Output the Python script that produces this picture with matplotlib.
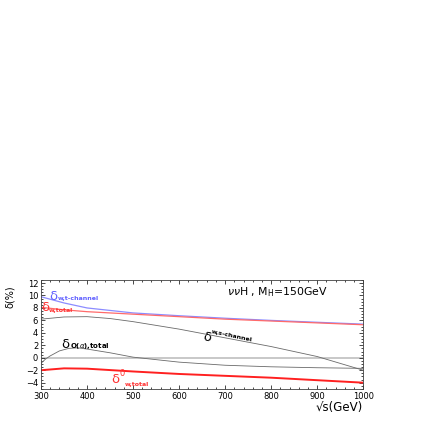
import numpy as np
import matplotlib; matplotlib.use("Agg")
import matplotlib.pyplot as plt
from matplotlib.ticker import MultipleLocator

# sqrt(s) in GeV and corrections in %
s_t = [300, 350, 400, 500, 600, 700, 800, 900, 1000]
d_t = [9.8, 8.8, 8.0, 7.2, 6.75, 6.35, 6.0, 5.7, 5.4]        # delta_w,t-channel (blue)
s_tot = [300, 350, 400, 500, 600, 700, 800, 900, 1000]
d_tot = [8.1, 7.7, 7.4, 7.0, 6.6, 6.2, 5.9, 5.6, 5.3]        # delta_w,total (red)
s_s = [300, 350, 400, 450, 500, 600, 700, 800, 900, 1000]
d_s = [6.2, 6.55, 6.6, 6.3, 5.8, 4.6, 3.2, 1.8, 0.2, -2.0]   # delta_w,s-channel
s_oa = [300, 310, 320, 340, 360, 380, 400, 450, 500, 600, 700, 800, 900, 1000]
d_oa = [-0.9, -0.2, 0.3, 1.1, 1.5, 1.6, 1.4, 0.8, 0.1, -0.7, -1.2, -1.45, -1.6, -1.7]  # delta_O(a),total
s_0 = [300, 350, 400, 500, 600, 700, 800, 900, 1000]
d_0 = [-2.0, -1.7, -1.75, -2.2, -2.6, -2.9, -3.2, -3.6, -4.0]  # delta^0_w,total

plt.rcParams["font.family"] = "DejaVu Sans"
fig = plt.figure(figsize=(4.36, 4.36), dpi=100)
ax = fig.add_axes([0.094, 0.108, 0.739, 0.250])

ax.axhline(0, color="#c8c8c8", lw=1.4, zorder=1)
ax.plot(s_t, d_t, color="#8c8cff", lw=0.9)
ax.plot(s_tot, d_tot, color="#ff6a6a", lw=0.9)
ax.plot(s_s, d_s, color="#6a6a6a", lw=0.6)
ax.plot(s_oa, d_oa, color="#6a6a6a", lw=0.6)
ax.plot(s_0, d_0, color="#ff2020", lw=1.4)

ax.set_xlim(300, 1000); ax.set_ylim(-5, 12.5)
ax.xaxis.set_major_locator(MultipleLocator(100)); ax.xaxis.set_minor_locator(MultipleLocator(20))
ax.yaxis.set_major_locator(MultipleLocator(2)); ax.yaxis.set_minor_locator(MultipleLocator(0.5))
ax.tick_params(which="both", direction="in", top=True, right=True, labelsize=6, width=0.5, pad=2)
ax.tick_params(which="major", length=3)
ax.tick_params(which="minor", length=1.6)
for sp in ax.spines.values():
    sp.set_linewidth(0.6); sp.set_color("#404040")

ax.text(-0.095, 0.85, "δ(%)", transform=ax.transAxes, rotation=90, ha="center", va="center", fontsize=7)
ax.text(1.0, -0.11, "√s(GeV)", transform=ax.transAxes, ha="right", va="top", fontsize=8.5)

# labels on curves
ax.text(318, 9.3, "δ", color="#6060ff", fontsize=9.5)
ax.text(336, 9.2, "w,t-channel", color="#6060ff", fontsize=4.5, fontweight="bold")
ax.text(300, 7.5, "δ", color="#ff3030", fontsize=9.5)
ax.text(317, 7.4, "w,total", color="#ff3030", fontsize=4.5, fontweight="bold")
ax.text(650, 2.6, "δ", color="black", fontsize=9.5, rotation=-12)
ax.text(669, 2.6, "w,s-channel", color="black", fontsize=4.5, fontweight="bold", rotation=-12)
ax.text(345, 1.6, "δ", color="black", fontsize=9.5)
ax.text(364, 1.5, r"O($\alpha$),total", color="black", fontsize=5, fontweight="bold")
ax.text(453, -4.0, "δ", color="#ff3030", fontsize=9.5)
ax.text(471, -2.9, "0", color="#ff3030", fontsize=6)
ax.text(483, -4.5, "w,total", color="#ff3030", fontsize=4.5, fontweight="bold")
ax.text(705, 10.1, r"$\nu\nu$H , M$_{\rm H}$=150GeV", fontsize=7.8)

fig.savefig("out.png", dpi=100)
